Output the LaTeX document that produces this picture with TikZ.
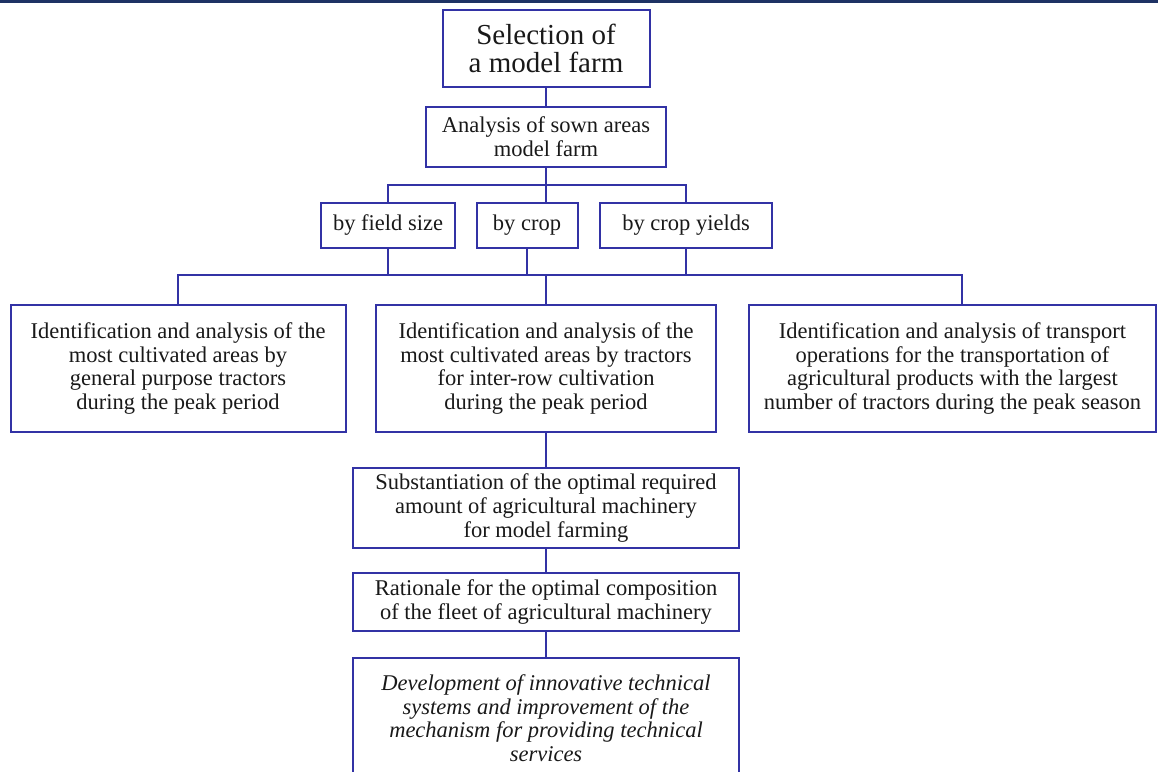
\documentclass[tikz,border=0pt]{standalone}
\usepackage{fontspec}
\setmainfont{Liberation Serif}
\usepackage{tikz}

\definecolor{lineblue}{RGB}{50,50,165}
\definecolor{topnavy}{RGB}{30,50,100}

\tikzset{
    blk/.style={draw=lineblue, line width=2pt, align=center, inner sep=0pt,
        text=black!90, font=\fontsize{22.5}{23.7}\selectfont},
    link/.style={draw=lineblue, line width=2pt}
}

\begin{document}
\begin{tikzpicture}[x=1pt, y=-1pt]
        \useasboundingbox (0,0) rectangle (1158,771);
        \clip (0,0) rectangle (1158,771);
        \fill[topnavy] (0,0) rectangle (1158,2.5);

        \node[blk, minimum width=207, minimum height=77, font=\fontsize{29}{28.5}\selectfont] (farm) at (546,48.5) {Selection of\\a model farm};
        \node[blk, minimum width=240, minimum height=60] (sown) at (546,137) {Analysis of sown areas\\model farm};

        \node[blk, minimum width=134, minimum height=45] (size) at (388,225.5) {by field size};
        \node[blk, minimum width=101, minimum height=45] (crop) at (527,225.5) {by crop};
        \node[blk, minimum width=172, minimum height=45] (yields) at (686,225.5) {by crop yields};

        \node[blk, minimum width=335, minimum height=127] (general) at (178,368.5) {Identification and analysis of the\\most cultivated areas by\\general purpose tractors\\during the peak period};
        \node[blk, minimum width=340, minimum height=127] (interrow) at (546,368.5) {Identification and analysis of the\\most cultivated areas by tractors\\for inter-row cultivation\\during the peak period};
        \node[blk, minimum width=407, minimum height=127] (transport) at (952.5,368.5) {Identification and analysis of transport\\operations for the transportation of\\agricultural products with the largest\\number of tractors during the peak season};

        \node[blk, minimum width=386, minimum height=80] (subst) at (546,508) {Substantiation of the optimal required\\amount of agricultural machinery\\for model farming};
        \node[blk, minimum width=386, minimum height=58] (ration) at (546,602) {Rationale for the optimal composition\\of the fleet of agricultural machinery};
        \node[blk, minimum width=386, minimum height=120, font=\fontsize{22.5}{23.5}\selectfont\itshape] (innov) at (546,718) {Development of innovative technical\\systems and improvement of the\\mechanism for providing technical\\services};

        % junction points of the two bars
        \coordinate (bar1) at (546,185);
        \coordinate (bar2) at (546,275);

        \draw[link] (farm) -- (sown);
        \draw[link] (sown) -- (bar1) -- (bar1 |- crop.north);
        \draw[link] (size.north) |- (bar1) -| (yields.north);

        \draw[link] (size.south) -- (size.south |- bar2);
        \draw[link] (crop.south) -- (crop.south |- bar2);
        \draw[link] (yields.south) -- (yields.south |- bar2);
        \draw[link] (general.north) |- (bar2) -| ([xshift=9.5pt]transport.north);
        \draw[link] (bar2) -- (interrow.north);

        \draw[link] (interrow) -- (subst);
        \draw[link] (subst) -- (ration);
        \draw[link] (ration) -- (innov);
    \end{tikzpicture}
\end{document}
